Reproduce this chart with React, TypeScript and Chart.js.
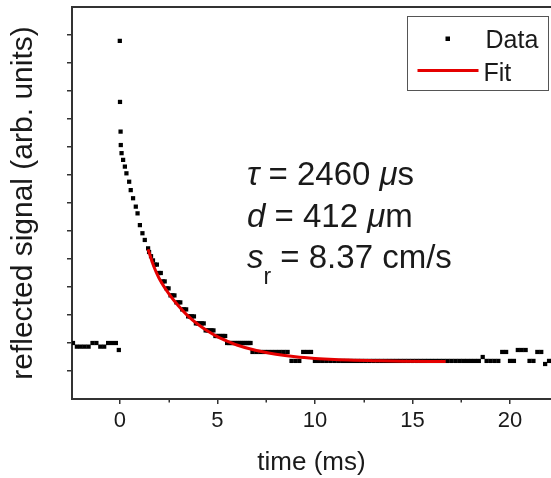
import React, { useEffect, useRef } from 'react';
import { Chart, registerables } from 'chart.js';

Chart.register(...registerables);

const FONT = "'Liberation Sans', Arial, sans-serif";
const TEXT = '#1a1a1a';
const AXIS = '#333333';

// x-axis ticks (ms)
const xMin = -2.45;
const xMax = 22.1;
const xStep = 2.5;
const xLabelEvery = 5;
// y-axis (arbitrary units, unlabeled)
const yMin = 0;
const yMax = 14;
const yStep = 1;

// Measured signal before excitation
const preTime = [-2.4, -2.2, -2.0, -1.8, -1.6, -1.4, -1.2, -1.0, -0.8, -0.6, -0.4, -0.2, -0.05];
const preSignal = [2.0, 1.87, 1.87, 1.87, 1.87, 2.0, 2.0, 1.87, 1.87, 2.0, 2.0, 2.0, 1.75];

// Measured decay (fast part)
const decayTime = [0, 0.01, 0.04, 0.05, 0.09, 0.17, 0.26, 0.34, 0.48, 0.56, 0.68, 0.82, 0.91, 1.03, 1.16, 1.28, 1.45];
const decaySignal = [12.79, 10.61, 9.55, 9.07, 8.78, 8.54, 8.3, 8.06, 7.76, 7.46, 7.17, 6.87, 6.63, 6.21, 5.92, 5.68, 5.38];

// Measured decay (slow part, staircase)
const slowTime = [1.5, 1.6, 1.7, 1.8, 1.9, 2.0, 2.1, 2.2, 2.3, 2.4, 2.5, 2.6, 2.7, 2.8, 2.9, 3.0, 3.1, 3.2, 3.3, 3.4,
  3.5, 3.6, 3.7, 3.8, 3.9, 4.0, 4.1, 4.2, 4.3, 4.4, 4.5, 4.6, 4.7, 4.8, 4.9, 5.0, 5.1, 5.2, 5.3, 5.4,
  5.5, 5.6, 5.7, 5.8, 5.9, 6.0, 6.1, 6.2, 6.3, 6.4, 6.5, 6.6, 6.7];
const slowSignal = [5.25, 5.1, 4.95, 4.8, 4.8, 4.5, 4.5, 4.2, 4.2, 3.95, 3.95, 3.7, 3.7, 3.7, 3.45, 3.45, 3.45, 3.2, 3.2, 3.2,
  2.95, 2.95, 2.95, 2.95, 2.7, 2.7, 2.7, 2.7, 2.7, 2.45, 2.45, 2.45, 2.45, 2.45, 2.25, 2.25, 2.25, 2.25, 2.25, 2.25,
  2.0, 2.0, 2.0, 2.0, 2.0, 2.0, 2.0, 2.0, 2.0, 2.0, 2.0, 2.0, 2.0];

// Measured tail
const tailTime = [6.8, 7.0, 7.2, 7.4, 7.6, 7.8, 8.0, 8.2, 8.4, 8.6,
  8.8, 9.0, 9.2, 9.4, 9.6, 9.8,
  10.0, 10.2, 10.4, 10.6, 10.8, 11.0, 11.2, 11.4, 11.6, 11.8,
  12.0, 12.2, 12.4, 12.6, 12.8, 13.0, 13.2, 13.4, 13.6, 13.8,
  14.0, 14.2, 14.4, 14.6, 14.8, 15.0, 15.2, 15.4, 15.6, 15.8,
  16.0, 16.2, 16.4, 16.6, 16.8, 17.0, 17.2, 17.4, 17.6, 17.8,
  18.0, 18.2, 18.4, 18.6, 18.8, 19.0, 19.2, 19.4, 19.6, 19.8,
  20.0, 20.2, 20.4, 20.6, 20.8, 21.0, 21.2, 21.4, 21.6, 21.8, 22.0, 22.2];
const tailSignal = [1.68, 1.68, 1.68, 1.68, 1.68, 1.68, 1.68, 1.68, 1.68, 1.68,
  1.36, 1.36, 1.36, 1.68, 1.68, 1.68,
  1.36, 1.36, 1.36, 1.36, 1.36, 1.36, 1.36, 1.36, 1.36, 1.36,
  1.36, 1.36, 1.36, 1.36, 1.36, 1.36, 1.36, 1.36, 1.36, 1.36,
  1.36, 1.36, 1.36, 1.36, 1.36, 1.36, 1.36, 1.36, 1.36, 1.36,
  1.36, 1.36, 1.36, 1.36, 1.36, 1.36, 1.36, 1.36, 1.36, 1.36,
  1.36, 1.36, 1.36, 1.5, 1.36, 1.36, 1.36, 1.36, 1.68, 1.68,
  1.36, 1.36, 1.75, 1.75, 1.75, 1.36, 1.36, 1.68, 1.68, 1.25, 1.36, 1.36];

// Exponential fit curve
const fitTime = [1.45, 1.75, 2.0, 2.5, 3.0, 3.5, 4.0, 4.5, 5.0, 5.5, 6.0, 7.0, 8.0, 9.0, 10.0, 11.0, 12.0, 13.0, 14.5, 16.7];
const fitSignal = [5.35, 4.72, 4.33, 3.77, 3.33, 2.96, 2.67, 2.43, 2.23, 2.07, 1.93, 1.73, 1.6, 1.51, 1.45, 1.41, 1.385, 1.37, 1.35, 1.34];

const legendLabels = ['Data', 'Fit'];
const xTitle = 'time (ms)';
const yTitle = 'reflected signal (arb. units)';

const toPoints = (xs: number[], ys: number[]) => xs.map((x, i) => ({ x, y: ys[i] }));
const isMajor = (v: number) => Math.abs(v % xLabelEvery) < 1e-9;

const overlayPlugin = {
  id: 'overlay',
  afterDraw(chart: any) {
    const { ctx, chartArea } = chart;
    const { left, top, right, bottom } = chartArea;
    ctx.save();
    // top frame line
    ctx.strokeStyle = AXIS;
    ctx.lineWidth = 2;
    ctx.beginPath();
    ctx.moveTo(left - 1, top);
    ctx.lineTo(right, top);
    ctx.stroke();

    // minor x ticks (shorter)
    const xs = chart.scales.x;
    ctx.lineWidth = 1.5;
    ctx.beginPath();
    for (const t of xs.ticks) {
      if (isMajor(t.value)) continue;
      const px = Math.round(xs.getPixelForValue(t.value)) + 0.25;
      ctx.moveTo(px, bottom);
      ctx.lineTo(px, bottom + 3.5);
    }
    ctx.stroke();

    // legend
    const fitDs = chart.data.datasets[0];
    const dataDs = chart.data.datasets[1];
    const bx = right - 143.5;
    const by = top + 9.5;
    ctx.strokeStyle = '#555555';
    ctx.lineWidth = 1;
    ctx.strokeRect(bx, by, 141, 74);
    ctx.fillStyle = dataDs.backgroundColor;
    ctx.fillRect(bx + 38, by + 20, 4.5, 4.5);
    ctx.strokeStyle = fitDs.borderColor;
    ctx.lineWidth = 3;
    ctx.beginPath();
    ctx.moveTo(bx + 10, by + 54);
    ctx.lineTo(bx + 71, by + 54);
    ctx.stroke();
    ctx.fillStyle = TEXT;
    ctx.font = `25px ${FONT}`;
    ctx.textBaseline = 'alphabetic';
    ctx.textAlign = 'left';
    ctx.fillText(legendLabels[0], bx + 78, by + 31);
    ctx.fillText(legendLabels[1], bx + 76, by + 64);

    // annotation
    const ax = left + 175;
    const parts = (segments: [string, string][], x: number, y: number) => {
      let cx = x;
      for (const [style, txt] of segments) {
        if (style === 'sub') {
          ctx.font = `23px ${FONT}`;
          ctx.fillText(txt, cx, y + 16);
        } else {
          ctx.font = `${style === 'i' ? 'italic ' : ''}33px ${FONT}`;
          ctx.fillText(txt, cx, y);
        }
        cx += ctx.measureText(txt).width;
      }
    };
    parts([['i', 'τ'], ['n', ' = 2460 '], ['i', 'μ'], ['n', 's']], ax, top + 178);
    parts([['i', 'd'], ['n', ' = 412 '], ['i', 'μ'], ['n', 'm']], ax, top + 220);
    parts([['i', 's'], ['sub', 'r'], ['n', ' = 8.37 cm/s']], ax, top + 261);
    ctx.restore();
  },
};

export default function App() {
  const ref = useRef<HTMLCanvasElement | null>(null);
  useEffect(() => {
    if (!ref.current) return;
    const chart = new Chart(ref.current, {
      type: 'scatter',
      data: {
        datasets: [
          {
            label: legendLabels[1],
            data: toPoints(fitTime, fitSignal),
            showLine: true,
            borderColor: '#e50000',
            backgroundColor: '#e50000',
            borderWidth: 3,
            pointRadius: 0,
            cubicInterpolationMode: 'monotone',
          },
          {
            label: legendLabels[0],
            data: [
              ...toPoints(preTime, preSignal),
              ...toPoints(decayTime, decaySignal),
              ...toPoints(slowTime, slowSignal),
              ...toPoints(tailTime, tailSignal),
            ],
            showLine: false,
            pointStyle: 'rect',
            pointRadius: 3,
            pointBorderWidth: 0,
            backgroundColor: '#000000',
            borderColor: '#000000',
          },
        ],
      } as any,
      options: {
        animation: false,
        responsive: false,
        events: [],
        layout: { autoPadding: false, padding: { top: 7, left: 0, right: 0, bottom: 0 } },
        plugins: { legend: { display: false }, tooltip: { enabled: false } },
        scales: {
          x: {
            type: 'linear',
            min: xMin,
            max: xMax,
            ticks: {
              stepSize: xStep,
              includeBounds: false,
              autoSkip: false,
              maxRotation: 0,
              padding: 4,
              color: TEXT,
              font: { family: FONT, size: 22 },
              callback: (v: any) => (isMajor(Number(v)) ? String(v) : ''),
            },
            grid: {
              drawOnChartArea: false,
              drawTicks: true,
              tickLength: 5,
              color: AXIS,
              lineWidth: 1.5,
              tickColor: (c: any) => (c.tick && !isMajor(c.tick.value) ? 'rgba(0,0,0,0)' : AXIS),
            },
            border: { color: AXIS, width: 2 },
            title: { display: true, text: xTitle, color: TEXT, font: { family: FONT, size: 26 }, padding: { top: 0, bottom: 0 } },
            afterFit: (s: any) => { s.height = 79; },
          },
          y: {
            type: 'linear',
            min: yMin,
            max: yMax,
            ticks: { stepSize: yStep, display: false },
            grid: {
              drawOnChartArea: false,
              drawTicks: true,
              tickLength: 5,
              lineWidth: 1.5,
              color: AXIS,
              tickColor: (c: any) => (c.tick && (c.tick.value === yMin || c.tick.value === yMax) ? 'rgba(0,0,0,0)' : AXIS),
            },
            border: { color: AXIS, width: 2 },
            title: { display: true, text: yTitle, color: TEXT, font: { family: FONT, size: 30 }, padding: { top: 6, bottom: 0 } },
            afterFit: (s: any) => { s.width = 72; },
          },
        },
      } as any,
      plugins: [overlayPlugin],
    });
    return () => chart.destroy();
  }, []);
  return (
    <div style={{ position: 'absolute', left: 0, top: 0, width: 551, height: 478, background: '#fff' }}>
      <canvas ref={ref} width={551} height={478} style={{ display: 'block' }} />
    </div>
  );
}
